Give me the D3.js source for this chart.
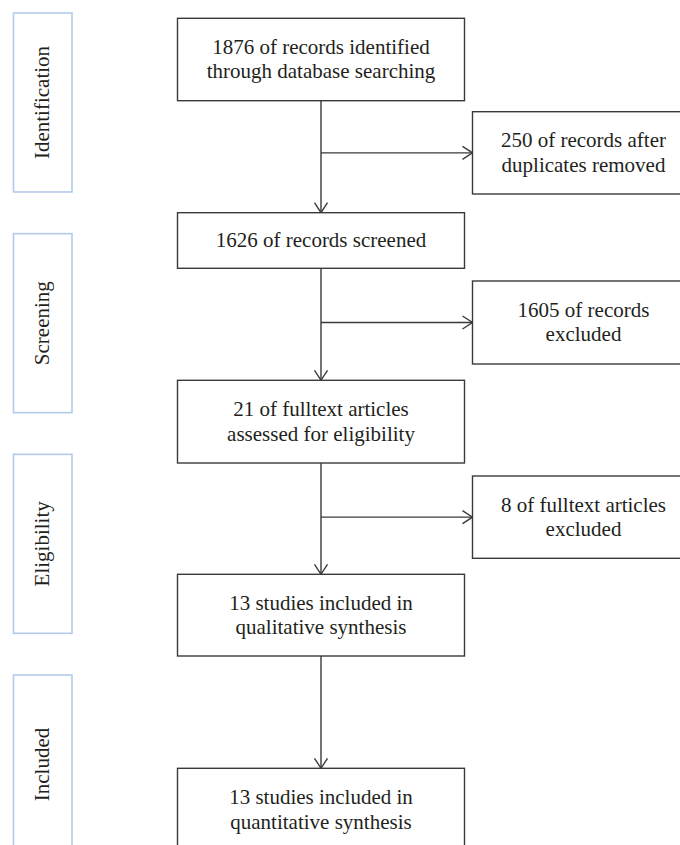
<!DOCTYPE html>
<html>
<head>
<meta charset="utf-8">
<script src="https://cdn.jsdelivr.net/npm/d3@7/dist/d3.min.js"></script>
<style>
  html, body { margin: 0; padding: 0; background: #fff; }
  svg { display: block; }
  text { font-family: "Liberation Serif", "Times New Roman", serif; fill: #231f20; }
</style>
</head>
<body>
<svg id="chart" width="680" height="845"></svg>
<script>
// ---- data ----
const stages = ["Identification", "Screening", "Eligibility", "Included"];
const mainLabels = [
  ["1876 of records identified", "through database searching"],
  ["1626 of records screened"],
  ["21 of fulltext articles", "assessed for eligibility"],
  ["13 studies included in", "qualitative synthesis"],
  ["13 studies included in", "quantitative synthesis"]
];
const sideLabels = [
  ["250 of records after", "duplicates removed"],
  ["1605 of records", "excluded"],
  ["8 of fulltext articles", "excluded"]
];

// ---- layout ----
const W = 680, H = 845;
const svg = d3.select("#chart");
const FS = 21, LH = 24.5;
const lineColor = "#3a3a3a";

// stage boxes via band scale
const yStage = d3.scaleBand().domain(stages).range([13, 854]).paddingInner(0.189).paddingOuter(0);
const stageX = 13.5, stageW = 58.5;

const stageG = svg.append("g");
stageG.selectAll("rect").data(stages).join("rect")
  .attr("x", stageX).attr("y", d => yStage(d))
  .attr("width", stageW).attr("height", yStage.bandwidth())
  .attr("fill", "none").attr("stroke", "#b3cbea").attr("stroke-width", 1.6);
stageG.selectAll("text").data(stages).join("text")
  .attr("transform", d => `translate(${stageX + stageW / 2 + 0.3 * 21},${yStage(d) + yStage.bandwidth() / 2}) rotate(-90)`)
  .attr("text-anchor", "middle")
  .style("font-size", "21px")
  .text(d => d);

// main column boxes
const mainX = 177.5, mainW = 287;
const mainTop = [18.3, 212.7, 380.3, 574.3, 768.3];
const mainH = [82.4, 55.6, 82.7, 81.7, 82.5];
const mainBoxes = mainLabels.map((lines, i) => ({ lines, x: mainX, y: mainTop[i], w: mainW, h: mainH[i] }));

// side boxes
const sideX = 472.5, sideW = 222;
const sideTop = [111.7, 281, 476];
const sideH = [82.3, 83, 82.3];
const sideBoxes = sideLabels.map((lines, i) => ({ lines, x: sideX, y: sideTop[i], w: sideW, h: sideH[i] }));

function drawBoxes(data) {
  const g = svg.append("g");
  const b = g.selectAll("g").data(data).join("g");
  b.append("rect")
    .attr("x", d => d.x).attr("y", d => d.y)
    .attr("width", d => d.w).attr("height", d => d.h)
    .attr("fill", "#fff").attr("stroke", lineColor).attr("stroke-width", 1.4);
  b.each(function (d) {
    const n = d.lines.length;
    d3.select(this).selectAll("text").data(d.lines).join("text")
      .attr("x", d.x + d.w / 2)
      .attr("y", (t, i) => d.y + d.h / 2 + (i - (n - 1) / 2) * LH + 0.32 * FS)
      .attr("text-anchor", "middle")
      .style("font-size", FS + "px")
      .text(t => t);
  });
}

// connectors
const cx = mainX + mainW / 2;
const conn = svg.append("g").attr("stroke", lineColor).attr("stroke-width", 1.4).attr("fill", "none");
function arrowDown(x, y1, y2) {
  conn.append("line").attr("x1", x).attr("x2", x).attr("y1", y1).attr("y2", y2);
  conn.append("path").attr("d", `M${x - 6.5},${y2 - 10}L${x},${y2}L${x + 6.5},${y2 - 10}`);
}
function arrowRight(x1, x2, y) {
  conn.append("line").attr("x1", x1).attr("x2", x2).attr("y1", y).attr("y2", y);
  conn.append("path").attr("d", `M${x2 - 10},${y - 6.5}L${x2},${y}L${x2 - 10},${y + 6.5}`);
}
for (let i = 0; i < mainBoxes.length - 1; i++) {
  arrowDown(cx, mainBoxes[i].y + mainBoxes[i].h, mainBoxes[i + 1].y);
}
sideBoxes.forEach(s => arrowRight(cx, s.x, s.y + s.h / 2));

drawBoxes(mainBoxes);
drawBoxes(sideBoxes);
</script>
</body>
</html>
